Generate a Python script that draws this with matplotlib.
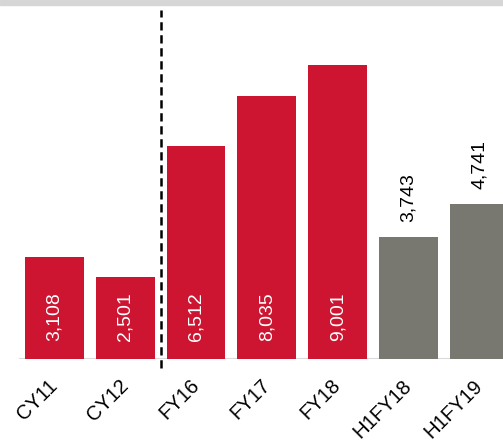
import matplotlib
matplotlib.use("Agg")
import matplotlib.pyplot as plt
from matplotlib.patches import Rectangle
import matplotlib.transforms as mtransforms

categories = ["CY11", "CY12", "FY16", "FY17", "FY18", "H1FY18", "H1FY19"]
values = [3108, 2501, 6512, 8035, 9001, 3743, 4741]
labels = ["3,108", "2,501", "6,512", "8,035", "9,001", "3,743", "4,741"]
kinds = ["full", "full", "full", "full", "full", "half", "half"]

RED = "#CD1531"
GRAY = "#787870"

plt.rcParams['font.family'] = ['Liberation Sans', 'DejaVu Sans']

W, H = 503, 444
fig = plt.figure(figsize=(W / 100, H / 100), dpi=100)
ax = fig.add_axes([19 / W, (H - 359) / H, (W - 19) / W, (359 - 5) / H])

x = list(range(len(categories)))
colors = [RED if k == "full" else GRAY for k in kinds]
ax.bar(x, values, width=0.83, color=colors, zorder=2)

ax.set_xlim(-0.5, 6.335)
ax.set_ylim(0, 10835)

for xi, v, lab, k in zip(x, values, labels, kinds):
    if k == "full":
        ax.text(xi, 560, lab, rotation=90, ha="center", va="bottom",
                color="white", fontsize=14, zorder=3)
    else:
        ax.text(xi, v + 450, lab, rotation=90, ha="center", va="bottom",
                color="black", fontsize=14, zorder=3)

ax.axhline(0, color="#D9D9D9", lw=1.5, zorder=1)

trans = mtransforms.blended_transform_factory(ax.transData, ax.transAxes)
ax.plot([1.5, 1.5], [-0.025, 0.985], transform=trans, color="black",
        lw=1.8, linestyle=(0, (3.3, 1.9)), clip_on=False, zorder=4)

ax.set_xticks(x)
ax.set_xticklabels(categories, rotation=45, ha="right", va="center",
                   rotation_mode="anchor", fontsize=14.5)
ax.tick_params(axis="x", length=0, pad=17)
ax.set_yticks([])
for s in ax.spines.values():
    s.set_visible(False)

fig.patches.append(Rectangle((0, (H - 5) / H), 1, 5 / H, transform=fig.transFigure,
                             color="#D6D6D6", zorder=0))

fig.savefig("out.png", dpi=100)
